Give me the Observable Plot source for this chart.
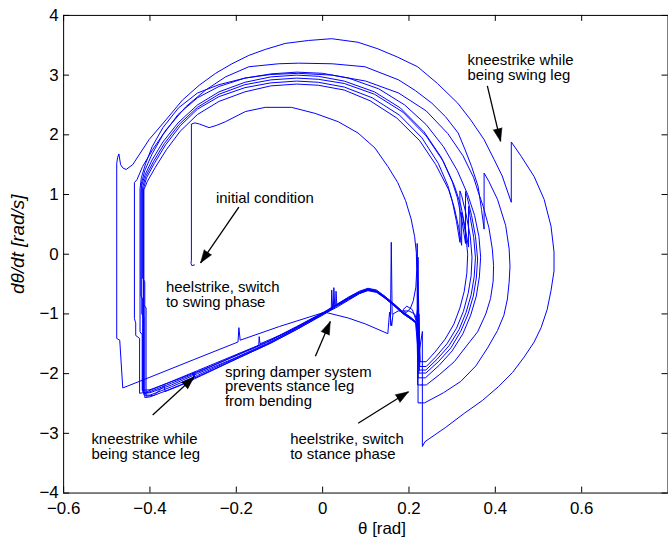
<!DOCTYPE html>
<html><head><meta charset="utf-8">
<script src="https://cdn.jsdelivr.net/npm/d3@7"></script>
<script src="https://cdn.jsdelivr.net/npm/@observablehq/plot@0.6"></script>
<style>
html,body{margin:0;padding:0;background:#fff;overflow:hidden;}
#chart{width:668px;height:543px;overflow:hidden;}
</style></head><body><div id="chart"></div>
<script>
// ---- tick values ----
const xTicks = [-0.6, -0.4, -0.2, 0, 0.2, 0.4, 0.6];
const yTicks = [-4, -3, -2, -1, 0, 1, 2, 3, 4];

// ---- trajectory pieces [theta (rad), dtheta/dt (rad/s)] ----
const initialSwing = [[-0.297,-0.18],[-0.303,-0.19],[-0.305,-0.15],[-0.304,-0.10],[-0.304,2.18],[-0.296,2.20],[-0.285,2.18],[-0.263,2.12],[-0.245,2.16],[-0.225,2.22],[-0.179,2.39],[-0.133,2.46],[-0.072,2.46],[-0.018,2.36],[0.036,2.22],[0.082,2.03],[0.121,1.78],[0.151,1.47],[0.174,1.20],[0.192,0.90],[0.205,0.59],[0.213,0.30],[0.217,0.03],[0.218,-0.25],[0.216,-0.55],[0.210,-0.78],[0.203,-0.91],[0.193,-0.98],[0.186,-0.93],[0.195,-0.87],[0.208,-0.93],[0.216,-1.10]];

const outerCycle = [[0.231,-1.30],[0.231,-3.22],[0.237,-3.14],[0.285,-2.90],[0.329,-2.66],[0.370,-2.45],[0.407,-2.22],[0.440,-1.98],[0.467,-1.72],[0.490,-1.47],[0.506,-1.23],[0.520,-0.93],[0.529,-0.61],[0.536,-0.28],[0.536,0.04],[0.529,0.47],[0.513,0.92],[0.490,1.30],[0.460,1.64],[0.437,1.88],[0.437,0.87],[0.424,1.14],[0.416,1.31],[0.397,1.59],[0.374,1.92],[0.343,2.25],[0.313,2.53],[0.266,2.86],[0.220,3.14],[0.174,3.30],[0.128,3.44],[0.082,3.55],[0.021,3.61],[-0.033,3.58],[-0.087,3.53],[-0.133,3.43],[-0.171,3.33],[-0.210,3.19],[-0.248,3.03],[-0.286,2.83],[-0.325,2.58],[-0.363,2.25],[-0.402,1.92],[-0.440,1.50],[-0.455,1.42],[-0.462,1.44],[-0.468,1.50],[-0.472,1.68],[-0.475,1.62],[-0.477,1.52],[-0.477,-1.41],[-0.470,-1.44],[-0.463,-2.24],[-0.400,-2.06],[-0.300,-1.77],[-0.196,-1.47],[-0.194,-1.23],[-0.191,-1.44],[-0.100,-1.21],[0.005,-0.97],[0.060,-1.07],[0.100,-1.17],[0.151,-1.33],[0.155,-0.97],[0.160,-1.20],[0.163,-1.00],[0.175,-0.95],[0.200,-0.95],[0.213,-1.00],[0.218,-1.10],[0.220,-1.80],[0.231,-1.30]];

const cycleTwo = [[0.226,-2.49],[0.236,-2.49],[0.280,-2.32],[0.320,-2.13],[0.355,-1.87],[0.382,-1.57],[0.405,-1.28],[0.420,-1.02],[0.428,-0.75],[0.432,-0.47],[0.434,-0.20],[0.432,0.09],[0.424,0.48],[0.405,0.92],[0.385,1.22],[0.374,1.36],[0.374,0.42],[0.368,0.75],[0.360,1.14],[0.345,1.47],[0.330,1.75],[0.314,2.03],[0.285,2.30],[0.253,2.53],[0.215,2.74],[0.176,2.92],[0.098,3.14],[0.022,3.19],[-0.056,3.20],[-0.102,3.19],[-0.171,3.14],[-0.225,2.97],[-0.271,2.75],[-0.317,2.47],[-0.363,2.08],[-0.394,1.75],[-0.417,1.47],[-0.430,1.25],[-0.436,1.20],[-0.436,-1.08],[-0.433,-1.15],[-0.433,-1.36],[-0.424,-1.41],[-0.424,-2.33],[-0.410,-2.31],[-0.350,-2.13],[-0.290,-1.95],[-0.210,-1.71],[-0.130,-1.47],[-0.060,-1.21],[0.005,-0.96],[0.030,-0.85],[0.060,-0.72],[0.085,-0.62],[0.105,-0.57],[0.125,-0.60],[0.145,-0.71],[0.165,-0.83],[0.185,-0.96],[0.205,-1.07],[0.215,-1.14],[0.221,-1.60],[0.221,-2.49],[0.226,-2.49]];

const cycleThree = [[0.228,-2.19],[0.240,-2.19],[0.270,-2.02],[0.305,-1.80],[0.335,-1.52],[0.359,-1.30],[0.378,-1.00],[0.389,-0.74],[0.395,-0.45],[0.396,-0.19],[0.393,0.09],[0.385,0.45],[0.372,0.80],[0.360,1.05],[0.350,1.28],[0.325,1.65],[0.290,2.02],[0.240,2.40],[0.176,2.70],[0.100,2.90],[0.022,3.00],[-0.056,3.03],[-0.120,3.01],[-0.180,2.95],[-0.240,2.84],[-0.290,2.70],[-0.334,2.45],[-0.370,2.12],[-0.395,1.80],[-0.410,1.52],[-0.420,1.28],[-0.423,1.10],[-0.423,-1.30],[-0.418,-1.35],[-0.418,-2.28],[-0.400,-2.27],[-0.330,-2.08],[-0.260,-1.88],[-0.190,-1.66],[-0.148,-1.53],[-0.147,-1.38],[-0.145,-1.50],[-0.080,-1.30],[0.005,-0.97],[0.030,-0.86],[0.060,-0.72],[0.085,-0.63],[0.105,-0.58],[0.125,-0.61],[0.145,-0.71],[0.165,-0.83],[0.185,-0.96],[0.205,-1.06],[0.216,-1.13],[0.220,-0.90],[0.220,-2.19],[0.228,-2.19]];

const bundleOne = [[0.221,-2.07],[0.238,-2.07],[0.270,-1.86],[0.300,-1.62],[0.325,-1.33],[0.343,-1.02],[0.356,-0.70],[0.363,-0.38],[0.366,-0.05],[0.362,0.30],[0.352,0.65],[0.336,1.00],[0.312,1.40],[0.280,1.80],[0.240,2.17],[0.190,2.50],[0.130,2.77],[0.060,2.95],[0.000,3.03],[-0.060,3.05],[-0.120,3.02],[-0.180,2.95],[-0.240,2.81],[-0.290,2.62],[-0.335,2.34],[-0.370,2.00],[-0.395,1.68],[-0.412,1.40],[-0.420,1.18],[-0.421,1.02],[-0.421,-0.70],[-0.417,-0.75],[-0.417,-2.30],[-0.410,-2.33],[-0.350,-2.16],[-0.290,-1.98],[-0.210,-1.73],[-0.130,-1.48],[-0.060,-1.22],[0.005,-0.97],[0.020,-0.91],[0.021,-0.60],[0.023,-0.89],[0.030,-0.86],[0.060,-0.73],[0.085,-0.64],[0.105,-0.59],[0.125,-0.63],[0.145,-0.74],[0.165,-0.86],[0.185,-0.99],[0.205,-1.09],[0.215,-1.14],[0.219,-1.10],[0.219,0.18],[0.221,-2.07]];

const bundleTwo = [[0.222,-1.99],[0.239,-1.99],[0.268,-1.80],[0.297,-1.57],[0.320,-1.29],[0.337,-1.00],[0.349,-0.70],[0.356,-0.40],[0.359,-0.08],[0.354,0.30],[0.345,0.65],[0.335,0.95],[0.331,1.05],[0.331,0.18],[0.323,0.55],[0.312,0.95],[0.300,1.22],[0.275,1.62],[0.235,2.05],[0.180,2.45],[0.120,2.72],[0.050,2.90],[-0.010,2.98],[-0.060,3.00],[-0.120,2.97],[-0.180,2.88],[-0.240,2.72],[-0.290,2.50],[-0.335,2.20],[-0.370,1.88],[-0.395,1.58],[-0.412,1.32],[-0.419,1.15],[-0.419,-1.00],[-0.414,-1.05],[-0.414,-2.36],[-0.400,-2.36],[-0.350,-2.22],[-0.290,-2.03],[-0.210,-1.77],[-0.130,-1.51],[-0.060,-1.24],[0.005,-0.98],[0.030,-0.88],[0.031,-0.62],[0.033,-0.86],[0.060,-0.75],[0.085,-0.65],[0.105,-0.60],[0.125,-0.63],[0.145,-0.73],[0.165,-0.85],[0.185,-0.98],[0.205,-1.08],[0.216,-1.15],[0.221,-1.20],[0.221,-0.05],[0.223,-1.99]];

const bundleThree = [[0.223,-1.94],[0.239,-1.94],[0.265,-1.76],[0.293,-1.53],[0.316,-1.26],[0.332,-0.98],[0.344,-0.68],[0.351,-0.38],[0.354,-0.06],[0.350,0.28],[0.342,0.62],[0.338,0.80],[0.338,0.12],[0.330,0.45],[0.320,0.82],[0.305,1.15],[0.280,1.55],[0.240,1.98],[0.186,2.38],[0.120,2.68],[0.050,2.86],[-0.010,2.93],[-0.060,2.95],[-0.120,2.92],[-0.180,2.84],[-0.240,2.68],[-0.290,2.46],[-0.333,2.17],[-0.367,1.85],[-0.392,1.55],[-0.410,1.30],[-0.417,1.12],[-0.417,-0.40],[-0.412,-0.46],[-0.412,-2.40],[-0.400,-2.39],[-0.360,-2.28],[-0.320,-2.16],[-0.300,-2.10],[-0.298,-1.98],[-0.296,-2.07],[-0.250,-1.92],[-0.190,-1.72],[-0.120,-1.49],[-0.060,-1.26],[0.005,-0.99],[0.030,-0.90],[0.060,-0.77],[0.085,-0.66],[0.105,-0.61],[0.125,-0.64],[0.145,-0.74],[0.165,-0.86],[0.185,-0.99],[0.205,-1.09],[0.217,-1.16],[0.220,-1.30],[0.220,-0.45],[0.224,-1.94]];

const bundleFour = [[0.224,-1.88],[0.240,-1.88],[0.262,-1.72],[0.288,-1.50],[0.310,-1.24],[0.326,-0.96],[0.337,-0.66],[0.344,-0.36],[0.346,-0.05],[0.342,0.30],[0.332,0.68],[0.322,0.98],[0.318,1.06],[0.318,0.20],[0.310,0.55],[0.300,0.90],[0.290,1.15],[0.268,1.52],[0.230,1.95],[0.178,2.33],[0.115,2.62],[0.050,2.80],[-0.010,2.88],[-0.060,2.90],[-0.120,2.87],[-0.180,2.79],[-0.240,2.64],[-0.290,2.43],[-0.330,2.15],[-0.364,1.83],[-0.390,1.52],[-0.408,1.28],[-0.415,1.10],[-0.415,-2.33],[-0.400,-2.32],[-0.350,-2.19],[-0.290,-2.00],[-0.210,-1.76],[-0.130,-1.50],[-0.060,-1.24],[0.005,-0.98],[0.025,-0.89],[0.026,-0.56],[0.028,-0.87],[0.060,-0.74],[0.085,-0.64],[0.105,-0.59],[0.125,-0.62],[0.145,-0.72],[0.165,-0.84],[0.185,-0.97],[0.205,-1.07],[0.218,-1.15],[0.222,-1.50],[0.222,-0.70],[0.225,-1.88]];

const bundleFive = [[0.225,-1.80],[0.240,-1.80],[0.260,-1.64],[0.284,-1.42],[0.304,-1.17],[0.318,-0.90],[0.328,-0.62],[0.334,-0.32],[0.336,0.00],[0.332,0.30],[0.325,0.60],[0.322,0.70],[0.322,0.15],[0.315,0.45],[0.305,0.78],[0.292,1.08],[0.262,1.50],[0.225,1.90],[0.172,2.28],[0.110,2.57],[0.050,2.75],[-0.010,2.83],[-0.060,2.85],[-0.120,2.82],[-0.180,2.72],[-0.240,2.56],[-0.290,2.34],[-0.330,2.06],[-0.362,1.75],[-0.388,1.45],[-0.406,1.22],[-0.414,1.08],[-0.414,-0.85],[-0.409,-0.90],[-0.409,-2.38],[-0.390,-2.36],[-0.367,-2.20],[-0.365,-2.30],[-0.330,-2.20],[-0.280,-2.03],[-0.210,-1.79],[-0.130,-1.52],[-0.060,-1.26],[0.005,-1.00],[0.030,-0.88],[0.060,-0.76],[0.085,-0.66],[0.105,-0.60],[0.125,-0.63],[0.145,-0.73],[0.165,-0.85],[0.185,-0.98],[0.205,-1.08],[0.217,-1.15],[0.223,-1.70],[0.223,-1.00],[0.226,-1.80]];

const midSpike = [[0.157,-1.19],[0.159,0.20],[0.161,-1.00]];

// ---- annotations ----
const noteText = ["initial condition", "heelstrike, switch\nto swing phase", "spring damper system\nprevents stance leg\nfrom bending", "kneestrike while\nbeing stance leg", "heelstrike, switch\nto stance phase", "kneestrike while\nbeing swing leg"];
const noteX = [-0.2471, -0.3629, -0.2263, -0.5356, -0.0751, 0.3355];
const noteY = [1.040, -0.459, -1.871, -2.998, -2.998, 3.346];
const arrowFrom = [[-0.1941, 0.7875], [-0.0168, -1.710], [-0.3937, -2.692], [0.0822, -2.830], [0.3815, 2.819]];
const arrowTo = [[-0.2828, -0.1449], [0.0177, -1.127], [-0.2977, -2.055], [0.1989, -2.304], [0.4122, 1.891]];

// ---- layout ----
const W = 672, H = 543, ML = 63.5, MR = 0.5, MT = 15, MB = 47.5;
const X0 = -0.6, X1 = 0.8, Y0 = -4, Y1 = 4;
const kx = (W - ML - MR) / (X1 - X0), ky = (H - MT - MB) / (Y1 - Y0);

const pieces = [["initial", initialSwing], ["outer", outerCycle], ["c2", cycleTwo], ["c3", cycleThree],
  ["b1", bundleOne], ["b2", bundleTwo], ["b3", bundleThree], ["b4", bundleFour], ["b5", bundleFive], ["spike", midSpike]];
const traj = pieces.flatMap(([name, pts]) => pts.map(([t, w]) => ({name, t, w})));

const notes = noteText.map((s, i) => ({s, x: noteX[i], y: noteY[i]}));
const arrows = arrowFrom.map((f, i) => {
  const t = arrowTo[i];
  const dx = (t[0] - f[0]) * kx, dy = -(t[1] - f[1]) * ky;
  return {x1: f[0], y1: f[1], x2: t[0], y2: t[1], rot: Math.atan2(dx, -dy) * 180 / Math.PI};
});

const tx = 6 / kx, ty = 6 / ky;
const fmt = d => d === 0 ? "0" : d3.format(".1f")(d);

const chart = Plot.plot({
  width: W, height: H,
  marginLeft: ML, marginRight: MR, marginTop: MT, marginBottom: MB,
  style: {fontFamily: "'Liberation Sans', Arial, Helvetica, sans-serif", fontSize: "17px", background: "#fff", color: "#000", overflow: "visible"},
  x: {domain: [X0, X1], ticks: xTicks, tickFormat: fmt, tickSize: 0, tickPadding: 9, label: null},
  y: {domain: [Y0, Y1], ticks: yTicks, tickFormat: d => d3.format("d")(d), tickSize: 0, tickPadding: 5, label: null},
  marks: [
    Plot.line(traj, {x: "t", y: "w", z: "name", stroke: "#0000ff", strokeWidth: 1, strokeLinejoin: "miter"}),
    Plot.frame({stroke: "#000", strokeWidth: 1}),
    Plot.ruleX(xTicks, {y1: Y0, y2: Y0 + ty, stroke: "#000"}),
    Plot.ruleX(xTicks, {y1: Y1, y2: Y1 - ty, stroke: "#000"}),
    Plot.ruleY(yTicks, {x1: X0, x2: X0 + tx, stroke: "#000"}),
    Plot.ruleY(yTicks, {x1: X1, x2: X1 - tx, stroke: "#000"}),
    Plot.link(arrows, {x1: "x1", y1: "y1", x2: "x2", y2: "y2", stroke: "#000", strokeWidth: 1.3}),
    Plot.vector(arrows, {x: "x2", y: "y2", rotate: "rot", length: 13, shape: "spike", anchor: "end", r: 4.5, fill: "#000", stroke: "#000", strokeWidth: 0.5}),
    Plot.text(notes, {x: "x", y: "y", text: "s", textAnchor: "start", lineAnchor: "top", lineHeight: 1, fontSize: 15, fill: "#000"}),
    Plot.text(["θ [rad]"], {x: 0.1375, frameAnchor: "bottom", lineAnchor: "top", dy: 29.5, fontSize: 17}),
    Plot.text(["dθ/dt [rad/s]"], {frameAnchor: "left", dx: -46, dy: -10, rotate: -90, fontStyle: "italic", fontSize: 19, textAnchor: "middle", lineAnchor: "middle"})
  ]
});
document.getElementById("chart").appendChild(chart);
</script></body></html>
